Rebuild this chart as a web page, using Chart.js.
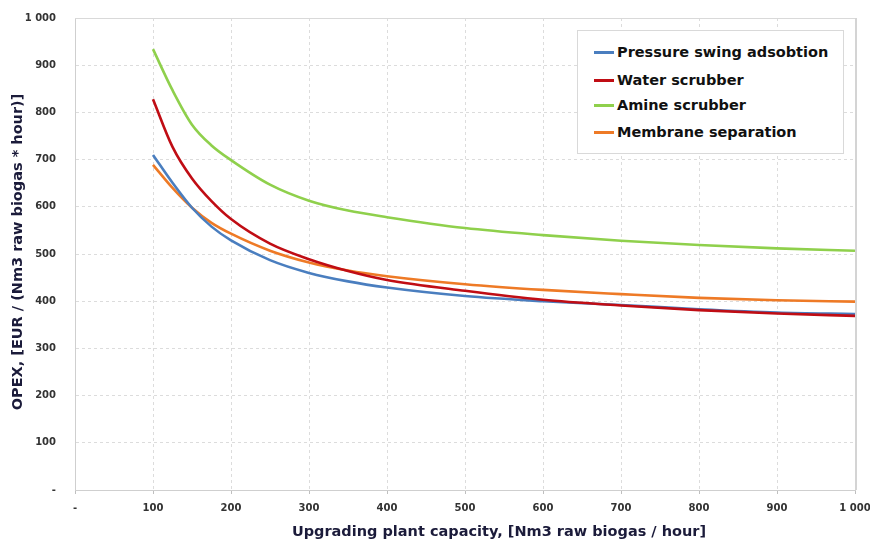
<!DOCTYPE html>
<html>
<head>
<meta charset="utf-8">
<script src="https://cdn.jsdelivr.net/npm/chart.js@4/dist/chart.umd.min.js"></script>
<style>
  html, body { margin: 0; padding: 0; background: #ffffff; }
  #wrap { position: relative; width: 870px; height: 542px; }
  #legend {
    position: absolute; left: 577px; top: 30px; width: 267px; height: 124px;
    border: 1px solid #d9d9d9; background: #ffffff; box-sizing: border-box;
    font-family: "DejaVu Sans", Verdana, sans-serif; font-weight: bold; font-size: 14.5px; color: #111;
  }
  .item { position: absolute; left: 16px; height: 18px; line-height: 18px; white-space: nowrap; }
  .swatch { display: inline-block; width: 20px; height: 3px; vertical-align: middle; margin-right: 3px; position: relative; top: -1px; }
</style>
</head>
<body>
<div id="wrap">
  <canvas id="c" width="870" height="542"></canvas>
  <div id="legend"></div>
</div>
<script>
// ---- data ----
const capacity = [100, 125, 150, 175, 200, 250, 300, 350, 400, 500, 600, 700, 800, 900, 1000];
const seriesNames = ["Pressure swing adsobtion", "Water scrubber", "Amine scrubber", "Membrane separation"];
const psa      = [710, 651, 598, 558, 529, 487, 460, 442, 429, 411, 400, 392, 383, 376, 373];
const water    = [828, 727, 660, 612, 574, 522, 489, 464, 445, 422, 403, 391, 381, 374, 369];
const amine    = [934, 847, 774, 730, 699, 647, 613, 592, 578, 555, 540, 528, 519, 512, 507];
const membrane = [689, 640, 598, 566, 543, 507, 482, 465, 453, 436, 424, 415, 407, 402, 399];
const xTickLabels = ["-", "100", "200", "300", "400", "500", "600", "700", "800", "900", "1 000"];
const yTickLabels = ["-", "100", "200", "300", "400", "500", "600", "700", "800", "900", "1 000"];
const xTitle = "Upgrading plant capacity, [Nm3 raw biogas / hour]";
const yTitle = "OPEX, [EUR / (Nm3 raw biogas * hour)]";

const colors = ["#4a7ebf", "#c00d14", "#8fd04c", "#ee7a26"];
const allSeries = [psa, water, amine, membrane];

const datasets = allSeries.map((vals, i) => ({
  label: seriesNames[i],
  data: capacity.map((x, k) => ({ x: x, y: vals[k] })),
  borderColor: colors[i],
  backgroundColor: colors[i],
  borderWidth: 2.6,
  pointRadius: 0,
  fill: false,
  cubicInterpolationMode: "monotone"
}));
// stacking order: water on top, then psa, membrane, amine
const drawOrder = [1, 0, 3, 2];
datasets.forEach((d, i) => { d.order = drawOrder.indexOf(i); });

const FONT = "'DejaVu Sans', Verdana, sans-serif";

const frame = {
  id: "frame",
  beforeDatasetsDraw(chart) {
    const { ctx, chartArea: a } = chart;
    ctx.save();
    ctx.strokeStyle = "#d9d9d9";
    ctx.lineWidth = 1;
    ctx.beginPath();
    ctx.moveTo(a.left, a.top + 0.5); ctx.lineTo(a.right, a.top + 0.5);
    ctx.stroke();
    ctx.lineWidth = 2;
    ctx.strokeStyle = "#d4d4d4";
    ctx.beginPath();
    ctx.moveTo(a.right + 1, a.top); ctx.lineTo(a.right + 1, a.bottom);
    ctx.stroke();
    ctx.restore();
  },
  afterDraw(chart) {
    const { ctx } = chart;
    ctx.save();
    ctx.fillStyle = "#1b1b3a";
    ctx.font = "bold 14.5px " + FONT;
    ctx.textAlign = "center";
    ctx.textBaseline = "middle";
    ctx.fillText(xTitle, 499, 532);
    ctx.translate(18, 252);
    ctx.rotate(-Math.PI / 2);
    ctx.fillText(yTitle, 0, 0);
    ctx.restore();
  }
};

new Chart(document.getElementById("c"), {
  type: "line",
  data: { datasets: datasets },
  options: {
    responsive: false,
    animation: false,
    devicePixelRatio: 1,
    layout: { padding: { top: 18, right: 15, bottom: 0, left: 0 } },
    plugins: { legend: { display: false }, tooltip: { enabled: false } },
    scales: {
      x: {
        type: "linear", min: 0, max: 1000,
        afterFit(s) { s.height = 52; s.paddingRight = 10; s.paddingLeft = 0; },
        ticks: {
          stepSize: 100, padding: 8,
          color: "#333333",
          font: { family: FONT, size: 10, weight: "bold" },
          callback: (v) => xTickLabels[Math.round(v / 100)],
          maxRotation: 0, autoSkip: false
        },
        grid: { color: "#dcdcdc", lineWidth: 1, tickLength: 4, tickColor: "#bfbfbf", tickBorderDash: [] },
        border: { display: true, color: "#cfcfcf", width: 1, dash: [3, 3] }
      },
      y: {
        min: 0, max: 1000,
        afterFit(s) { s.width = 75; s.paddingTop = 6; s.paddingBottom = 0; },
        ticks: {
          stepSize: 100, padding: 19,
          color: "#333333",
          font: { family: FONT, size: 10, weight: "bold" },
          callback: (v) => yTickLabels[Math.round(v / 100)]
        },
        grid: { color: "#dcdcdc", lineWidth: 1, drawTicks: false },
        border: { display: true, color: "#cfcfcf", width: 1, dash: [3, 3] }
      }
    }
  },
  plugins: [frame]
});

// legend (HTML, real text)
const leg = document.getElementById("legend");
const rowTops = [12, 40, 65, 92];
seriesNames.forEach((name, i) => {
  const it = document.createElement("div");
  it.className = "item";
  it.style.top = rowTops[i] + "px";
  const sw = document.createElement("span");
  sw.className = "swatch";
  sw.style.background = colors[i];
  it.appendChild(sw);
  it.appendChild(document.createTextNode(name));
  leg.appendChild(it);
});
</script>
</body>
</html>
